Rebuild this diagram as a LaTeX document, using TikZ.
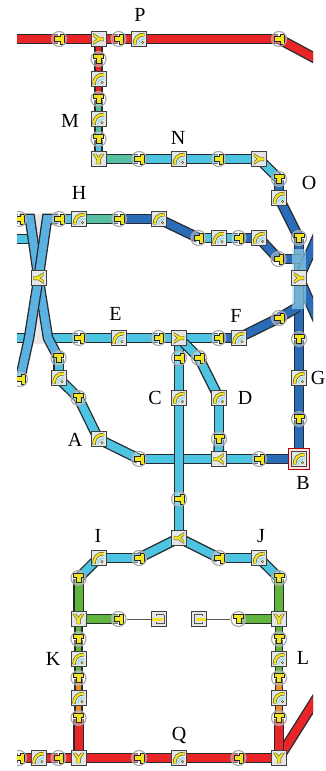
\documentclass[tikz,border=0pt]{standalone}
\usepackage{fontspec}
\setmainfont{Liberation Serif}
\usetikzlibrary{calc,backgrounds}
\definecolor{wdark}{HTML}{262A2E}
\definecolor{wred}{HTML}{EA2528}
\definecolor{wcyan}{HTML}{4CC4E2}
\definecolor{wblue}{HTML}{2A6CB8}
\definecolor{wteal}{HTML}{58C0A2}
\definecolor{wgreen}{HTML}{62B53C}
\definecolor{worange}{HTML}{F18A20}
\definecolor{wcross}{HTML}{5AB2E2}
\definecolor{iconyellow}{HTML}{F4E61E}
\definecolor{boxgray}{HTML}{E4E6E8}
\newcommand{\teeicon}[1]{\begin{scope}[shift={(path picture bounding box.center)},fill opacity=1]%
    \pgftransformrotate{#1}%
    \filldraw[fill=iconyellow,draw=black!85,line width=0.5pt] (-5,-5) -- (5,-5) -- (5,-1.2) -- (2.4,-1.2) -- (2.4,4.5) -- (-2.4,4.5) -- (-2.4,-1.2) -- (-5,-1.2) -- cycle;%
    \end{scope}}
\newcommand{\yicon}[1]{\begin{scope}[shift={(path picture bounding box.center)}]%
    \pgftransformrotate{#1}%
    \filldraw[fill=iconyellow,draw=black!70,line width=0.4pt] (-5.5,-5) -- (-2.6,-5) -- (0,-1.8) -- (2.6,-5) -- (5.5,-5) -- (1.8,0.6) -- (1.8,5) -- (-1.8,5) -- (-1.8,0.6) -- cycle;%
    \end{scope}}
\newcommand{\arcicon}{\begin{scope}[shift={(path picture bounding box.center)}]%
    \draw[black!80,line width=3.4pt] (-4.5,5.5) .. controls (-4.5,-1) and (-1,-4.5) .. (5.5,-4.5);%
    \draw[iconyellow,line width=2.4pt] (-4.5,5.5) .. controls (-4.5,-1) and (-1,-4.5) .. (5.5,-4.5);%
    \draw[wcyan!60,line width=1.6pt] (-0.5,5.5) .. controls (-0.5,2) and (1,0) .. (5.5,0);%
    \fill[black!80] (3.6,3.6) circle (1.5);%
    \fill[iconyellow] (3.6,3.6) circle (0.8);%
    \end{scope}}
\newcommand{\stubicon}[1]{\begin{scope}[shift={(path picture bounding box.center)}]%
    \pgftransformrotate{#1}%
    \draw[black!65,line width=1pt] (-5,4) -- (-5,-4.5) -- (3,-4.5) -- (3,-2.6);%
    \draw[black!65,line width=1pt] (-5,4.5) -- (3,4.5) -- (3,2.6);%
    \fill[iconyellow] (-3.5,-1.5) rectangle (7,1.5);%
    \end{scope}}

\begin{document}
\begin{tikzpicture}[x=1pt,y=-1pt]
    %
    % Styles
    %
    \tikzset{wire/.style={draw=wdark,line width=1.3pt,double=#1,double distance=8pt,shorten <=-7.5pt,shorten >=-7.5pt}};%
    \tikzset{wirethin/.style={draw=wdark,line width=1.2pt,double=#1,double distance=5.8pt,shorten <=-7.5pt,shorten >=-7.5pt}};%
    \tikzset{teenode/.style={circle,draw=gray!70,line width=1.1pt,fill=white,fill opacity=0.35,minimum size=15pt,inner sep=0pt,path picture={\teeicon{#1}}},teenode/.default=-90};%
    \tikzset{ynode/.style={rectangle,draw=black!75,line width=1pt,fill=boxgray,minimum size=15pt,inner sep=0pt,path picture={\yicon{#1}}},ynode/.default=90};%
    \tikzset{arcnode/.style={rectangle,draw=black!75,line width=1pt,fill=boxgray,minimum size=15pt,inner sep=0pt,path picture={\arcicon}}};%
    \tikzset{stubnode/.style={rectangle,draw=black!75,line width=1pt,fill=boxgray,minimum size=15pt,inner sep=0pt,path picture={\stubicon{#1}}}};%
    \tikzset{lbl/.style={font=\fontsize{20}{22}\selectfont,inner sep=0pt}};%

    \useasboundingbox (0,0) rectangle (325,771);%

    %
    % Noeuds
    %
    \begin{scope}
    \clip (17,0) rectangle (313,771);%

    % Ligne haute
    \node[teenode] (pa) at (59,39) {};%
    \node[ynode] (py) at (98.5,39) {};%
    \node[teenode] (pb) at (118.5,39) {};%
    \node[arcnode] (pc) at (139,39) {};%
    \node[teenode] (pd) at (279,39) {};%

    % Colonne M
    \node[teenode=0] (ma) at (98.5,59) {};%
    \node[arcnode] (mb) at (98.5,79) {};%
    \node[teenode=0] (mc) at (98.5,99) {};%
    \node[arcnode] (md) at (98.5,119) {};%
    \node[teenode=0] (me) at (98.5,139) {};%
    \node[ynode=0] (my) at (98.5,159) {};%

    % Ligne N
    \node[teenode] (na) at (139,159) {};%
    \node[arcnode] (nb) at (179,159) {};%
    \node[teenode] (nc) at (218.5,159) {};%
    \node[ynode] (ny) at (259,159) {};%
    \node[teenode=0] (oa) at (279,179) {};%
    \node[arcnode] (ob) at (279,198) {};%
    \node[teenode=0] (oc) at (299,238) {};%
    \node[ynode] (oy) at (299,278) {};%

    % Ligne H
    \node[teenode] (ha) at (19,219) {};%
    \node[teenode] (hb) at (59,219) {};%
    \node[arcnode] (hc) at (79,219) {};%
    \node[teenode] (hd) at (119,219) {};%
    \node[arcnode] (he) at (159,219) {};%
    \node[teenode] (hf) at (198.5,238) {};%
    \node[arcnode] (hg) at (218.5,238) {};%
    \node[teenode] (hh) at (238.5,238) {};%
    \node[arcnode] (hi) at (259,238) {};%
    \node[teenode] (hj) at (278.5,259) {};%
    \node[ynode=-90] (hy) at (38.5,278) {};%
    \node[teenode] (hk) at (20,379) {};%

    % Ligne E
    \node[teenode] (ea) at (79,338) {};%
    \node[arcnode] (eb) at (118.5,338) {};%
    \node[teenode] (ec) at (158.5,338) {};%
    \node[ynode] (ey) at (179,338) {};%
    \node[teenode] (ed) at (218.5,338) {};%
    \node[arcnode] (ee) at (238.5,338) {};%
    \node[teenode] (ef) at (279,318) {};%

    % Colonne G et B
    \node[teenode=0] (ga) at (299,339) {};%
    \node[arcnode] (gb) at (299,378) {};%
    \node[teenode=0] (gc) at (299,419) {};%
    \node[rectangle,draw=red!70!black,line width=1pt,fill=red!12,minimum size=20.5pt] (bf) at (299,459) {};%
    \node[arcnode] (bb) at (299,459) {};%

    % Ligne A
    \node[teenode=0] (aa) at (58.5,358) {};%
    \node[arcnode] (ab) at (58.5,378) {};%
    \node[teenode=0] (ac) at (78.5,398) {};%
    \node[arcnode] (ad) at (98.5,439) {};%
    \node[teenode] (ae) at (139,459) {};%
    \node[ynode=-90] (dy) at (218.5,459) {};%
    \node[teenode] (ba) at (259,459) {};%

    % Colonnes C et D
    \node[teenode] (ca) at (179,358) {};%
    \node[arcnode] (cb) at (179,398) {};%
    \node[teenode] (cc) at (179,499) {};%
    \node[ynode=-90] (iy) at (179,538) {};%
    \node[teenode] (da) at (199,358) {};%
    \node[arcnode] (db) at (219,398) {};%
    \node[teenode=0] (dc) at (219,439) {};%

    % Lignes I et J
    \node[teenode] (ia) at (139,558) {};%
    \node[arcnode] (ib) at (98.5,558) {};%
    \node[teenode=0] (ic) at (78.5,578) {};%
    \node[teenode] (ja) at (219,558) {};%
    \node[arcnode] (jb) at (259,558) {};%
    \node[teenode=0] (jc) at (279,578) {};%

    % Colonne K
    \node[ynode=0] (ky) at (78.5,619) {};%
    \node[teenode] (ke) at (118.5,619) {};%
    \node[stubnode=180] (kf) at (159,619) {};%
    \node[teenode=0] (ka) at (78.5,639) {};%
    \node[arcnode] (kb) at (78.5,659) {};%
    \node[teenode=0] (kc) at (78.5,678) {};%
    \node[arcnode] (kd) at (78.5,698) {};%
    \node[teenode=0] (kg) at (78.5,718) {};%

    % Colonne L
    \node[ynode=0] (ly) at (279,619) {};%
    \node[teenode=0] (le) at (238.5,619) {};%
    \node[stubnode=0] (lf) at (199,619) {};%
    \node[teenode=0] (la) at (279,639) {};%
    \node[arcnode] (lb) at (279,659) {};%
    \node[teenode=0] (lc) at (279,678) {};%
    \node[arcnode] (ld) at (279,698) {};%
    \node[teenode=0] (lg) at (279,718) {};%

    % Ligne Q
    \node[teenode] (qb) at (19,758) {};%
    \node[arcnode] (qc) at (38.5,758) {};%
    \node[teenode] (qd) at (58.5,758) {};%
    \node[ynode=0] (qa) at (78.5,758) {};%
    \node[teenode] (qe) at (139,758) {};%
    \node[arcnode] (qf) at (179,758) {};%
    \node[teenode] (qg) at (238.5,758) {};%
    \node[ynode=0] (qy) at (279,758) {};%
    \end{scope}

    %
    % Coordonnees
    %
    \coordinate (pw) at (5,39);%
    \coordinate (pe) at (335,69);%
    \coordinate (hw) at (5,219);%
    \coordinate (sw) at (5,239);%
    \coordinate (ew) at (5,338);%
    \coordinate (xa) at (30,219);%
    \coordinate (xb) at (47,219);%
    \coordinate (xc) at (29,338);%
    \coordinate (xd) at (48,338);%
    \coordinate (ra) at (324,222);%
    \coordinate (rb) at (324,334);%
    \coordinate (ql) at (330,677);%
    \coordinate (qw) at (5,758);%

    %
    % Cables
    %
    \begin{scope}[on background layer]
    \fill[white] (0,0) rectangle (325,771);%
    \clip (17,0) rectangle (313,771);%

    % Ligne haute
    \draw[wire=wred] (pw) -- (pa);%
    \draw[wire=wred] (pa) -- (py);%
    \draw[wire=wred] (py) -- (pb);%
    \draw[wire=wred] (pb) -- (pc);%
    \draw[wire=wred] (pc) -- (pd);%
    \draw[wire=wred] (pd) -- (pe);%

    % Colonne M
    \draw[wirethin=wred] (py) -- (ma);%
    \draw[wirethin=wred] (ma) -- (mb);%
    \draw[wirethin=wred] (mb) -- (mc);%
    \draw[wirethin=wteal] (mc) -- (md);%
    \draw[wirethin=wteal] (md) -- (me);%
    \draw[wirethin=wcyan] (me) -- (my);%

    % Ligne N
    \draw[wire=wteal] (my) -- (na);%
    \draw[wire=wcyan] (na) -- (nb);%
    \draw[wire=wcyan] (nb) -- (nc);%
    \draw[wire=wcyan] (nc) -- (ny);%
    \draw[wire=wcyan] (ny) -- (oa);%
    \draw[wire=wblue] (oa) -- (ob);%
    \draw[wire=wblue] (ob) -- (oc);%
    \draw[wire=wblue] (oc) -- (oy);%

    % Croisement droit
    \draw[wire=wblue] (oy) -- (ra);%
    \draw[wire=wblue] (oy) -- (rb);%
    \draw[wire=wblue] (oy) -- (ga);%
    \draw[wire=wblue] (hj) -- ($(oy)+(-6,-19)$);%
    \draw[wire=wblue] (ef) -- ($(oy)+(-8,33)$);%

    % Ligne H
    \draw[wire=wcyan] (sw) -- ($(xa)+(0,20)$);%
    \draw[wire=wcyan] (hb) -- (hc);%
    \draw[wire=wteal] (hc) -- (hd);%
    \draw[wire=wblue] (hd) -- (he);%
    \draw[wire=wblue] (he) -- (hf);%
    \draw[wire=wcyan] (hf) -- (hg);%
    \draw[wire=wcyan] (hg) -- (hh);%
    \draw[wire=wblue] (hh) -- (hi);%
    \draw[wire=wblue] (hi) -- (hj);%

    % Ligne E
    \draw[wire=wcyan] (ew) -- (ea);%
    \draw[wire=wcyan] (ea) -- (eb);%
    \draw[wire=wcyan] (eb) -- (ec);%
    \draw[wire=wcyan] (ec) -- (ey);%
    \draw[wire=wcyan] (ey) -- (ed);%
    \draw[wire=wblue] (ed) -- (ee);%
    \draw[wire=wblue] (ee) -- (ef);%

    % Croisement gauche
    \draw[wire=wcyan] (hw) -- (ha);%
    \fill[gray!18] (30,214) -- (48,214) -- (39,250) -- cycle;%
    \fill[gray!18] (30,344) -- (48,344) -- (39,310) -- cycle;%
    \draw[wire=wcross] (ha) -- (xa) -- (hy.center) -- (xd) -- (aa);%
    \draw[wire=wcross] (hb) -- (xb) -- (hy.center) -- (xc) -- (hk);%

    % Ligne A
    \draw[wire=wcyan] (aa) -- (ab);%
    \draw[wire=wcyan] (ab) -- (ac);%
    \draw[wire=wcyan] (ac) -- (ad);%
    \draw[wire=wcyan] (ad) -- (ae);%
    \draw[wire=wcyan] (ae) -- (dy);%
    \draw[wire=wcyan] (dy) -- (ba);%
    \draw[wire=wblue] (ba) -- (bf);%

    % Colonne G
    \draw[wire=wblue] (ga) -- (gb);%
    \draw[wire=wblue] (gb) -- (gc);%
    \draw[wire=wblue] (gc) -- (bf);%
    \fill[wcyan!55,opacity=0.6] (292,249) rectangle (306,309);%

    % Colonnes C et D
    \draw[wire=wcyan] (ey) -- (ca);%
    \draw[wire=wcyan] (ca) -- (cb);%
    \draw[wire=wcyan] (cb) -- (cc);%
    \draw[wire=wcyan] (cc) -- (iy);%
    \draw[wire=wcyan] (ey) -- (da);%
    \draw[wire=wcyan] (da) -- (db);%
    \draw[wire=wcyan] (db) -- (dc);%
    \draw[wire=wcyan] (dc) -- (dy);%

    % Lignes I et J
    \draw[wire=wcyan] (iy) -- (ia);%
    \draw[wire=wcyan] (ia) -- (ib);%
    \draw[wire=wcyan] (ib) -- (ic);%
    \draw[wire=wcyan] (iy) -- (ja);%
    \draw[wire=wcyan] (ja) -- (jb);%
    \draw[wire=wcyan] (jb) -- (jc);%

    % Colonne K
    \draw[wire=wgreen] (ic) -- (ky);%
    \draw[wire=wgreen] (ky) -- (ke);%
    \draw[gray!70!black,line width=1pt] (ke) -- (kf);%
    \draw[wirethin=wgreen] (ky) -- (ka);%
    \draw[wirethin=wgreen] (ka) -- (kb);%
    \draw[wirethin=wgreen] (kb) -- (kc);%
    \draw[wirethin=worange] (kc) -- (kd);%
    \draw[wirethin=worange] (kd) -- (kg);%
    \draw[wire=wred] (kg) -- (qa);%

    % Colonne L
    \draw[wire=wred] (qy) -- (ql);%
    \draw[wire=wgreen] (jc) -- (ly);%
    \draw[wire=wgreen] (ly) -- (le);%
    \draw[gray!70!black,line width=1pt] (le) -- (lf);%
    \draw[wirethin=wgreen] (ly) -- (la);%
    \draw[wirethin=wgreen] (la) -- (lb);%
    \draw[wirethin=wgreen] (lb) -- (lc);%
    \draw[wirethin=worange] (lc) -- (ld);%
    \draw[wirethin=worange] (ld) -- (lg);%
    \draw[wire=wred] (lg) -- (qy);%

    % Ligne Q
    \draw[wire=wred] (qw) -- (qb);%
    \draw[wire=wred] (qb) -- (qc);%
    \draw[wire=wred] (qc) -- (qd);%
    \draw[wire=wred] (qd) -- (qa);%
    \draw[wire=wred] (qa) -- (qe);%
    \draw[wire=wred] (qe) -- (qf);%
    \draw[wire=wred] (qf) -- (qg);%
    \draw[wire=wred] (qg) -- (qy);%
    \end{scope}

    %
    % Etiquettes
    %
    \node[lbl] (lblp) at (140,15) {P};%
    \node[lbl] (lblm) at (70,121) {M};%
    \node[lbl] (lbln) at (178,138) {N};%
    \node[lbl] (lblo) at (309,183) {O};%
    \node[lbl] (lblh) at (79,193) {H};%
    \node[lbl] (lble) at (115.5,314) {E};%
    \node[lbl] (lblf) at (236,316) {F};%
    \node[lbl] (lblg) at (318,378) {G};%
    \node[lbl] (lblc) at (155,398) {C};%
    \node[lbl] (lbld) at (245,398) {D};%
    \node[lbl] (lbla) at (75,440) {A};%
    \node[lbl] (lblb) at (303,483) {B};%
    \node[lbl] (lbli) at (98,536) {I};%
    \node[lbl] (lblj) at (261,536) {J};%
    \node[lbl] (lblk) at (53,659) {K};%
    \node[lbl] (lbll) at (303,658) {L};%
    \node[lbl] (lblq) at (179,735) {Q};%
\end{tikzpicture}
\end{document}
